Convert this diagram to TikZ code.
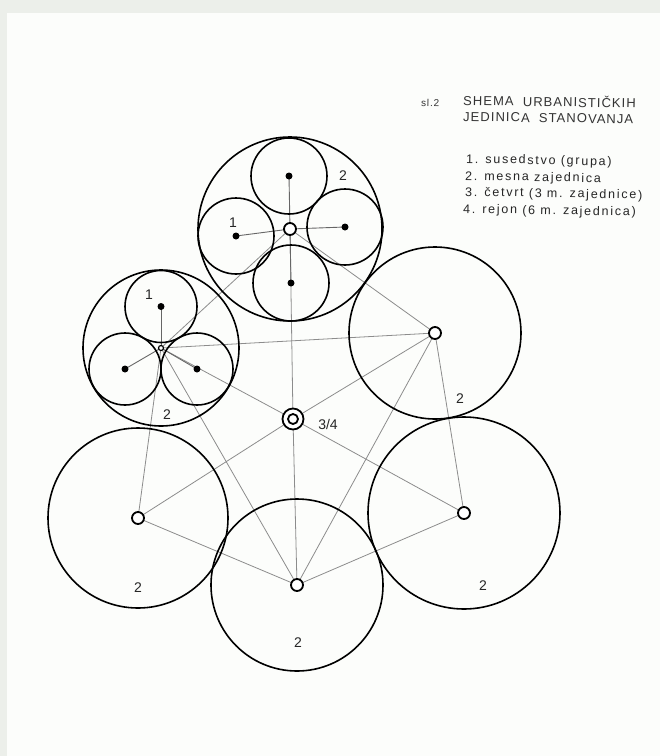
\documentclass[tikz,border=0pt]{standalone}
\usepackage{fontspec}
\setmainfont{Liberation Sans}
\newfontfamily\lettering[LetterSpace=8]{Liberation Sans}
\newfontfamily\legendfont[LetterSpace=14]{Liberation Sans}
\definecolor{pagebg}{RGB}{236,239,234}
\definecolor{paper}{RGB}{252,253,251}
\begin{document}
\begin{tikzpicture}[x=1pt,y=-1pt,
  link/.style={draw=black!45, line width=0.8pt},
  spoke/.style={draw=black!60, line width=0.9pt},
  unit/.style={circle, draw=black, line width=1.6pt, inner sep=0pt, minimum size=#1},
  ring/.style={circle, draw=black, fill=white, line width=1.8pt, inner sep=0pt, minimum size=#1},
  dot/.style={circle, fill=black, inner sep=0pt, minimum size=7pt},
  num/.style={font=\fontsize{14}{14}\selectfont, text=black!85, inner sep=0pt},
  title/.style={font=\lettering\fontsize{13}{13}\selectfont, text=black!80, anchor=base west, inner sep=0pt, rotate=-1},
  legend/.style={font=\legendfont\fontsize{12.5}{12.5}\selectfont, text=black!85, anchor=base west, inner sep=0pt, rotate=-1}
]
\useasboundingbox (0,0) rectangle (660,756);
\fill[pagebg] (0,0) rectangle (660,756);
\fill[paper] (7,13) rectangle (660,756);

% centres
\coordinate (C) at (293,419);
\coordinate (T) at (290,229);
\coordinate (L) at (161,348);
\coordinate (R) at (435,333);
\coordinate (LL) at (138,518);
\coordinate (B) at (297,585);
\coordinate (LR) at (464,513);

% sub-units of T
\coordinate (Ta) at (289,176);
\coordinate (Tb) at (236,236);
\coordinate (Tc) at (345,227);
\coordinate (Td) at (291,283);
% sub-units of L
\coordinate (La) at (161,306.5);
\coordinate (Lb) at (125,369);
\coordinate (Lc) at (197,369);

% connectors
\draw[link] (T) -- (L);
\draw[link] (T) -- (R);
\draw[link] (R) -- (LR);
\draw[link] (LR) -- (B);
\draw[link] (B) -- (LL);
\draw[link] (LL) -- (L);
\draw[link] (L) -- (R);
\draw[link] (L) -- (B);
\draw[link] (R) -- (B);
\draw[link] (C) -- (T);
\draw[link] (C) -- (B);
\draw[link] (C) -- (L);
\draw[link] (C) -- (R);
\draw[link] (C) -- (LL);
\draw[link] (C) -- (LR);

% spokes inside the clusters
\draw[spoke] (Ta) -- (Td);
\draw[spoke] (Tb) -- (T);
\draw[spoke] (Tc) -- (T);
\draw[spoke] (La) -- (L);
\draw[spoke] (Lb) -- (L);
\draw[spoke] (Lc) -- (L);

% big circles
\node[unit=184pt] (Tc0) at (T) {};
\node[unit=156pt] (Lc0) at (L) {};
\node[unit=172pt] (Rc0) at (R) {};
\node[unit=180pt] (LLc0) at (LL) {};
\node[unit=172pt] (Bc0) at (B) {};
\node[unit=192pt] (LRc0) at (LR) {};

% small circles
\node[unit=76pt] (Tac) at (Ta) {};
\node[unit=76pt] (Tbc) at (Tb) {};
\node[unit=76pt] (Tcc) at (Tc) {};
\node[unit=76pt] (Tdc) at (Td) {};
\node[unit=72pt] (Lac) at (La) {};
\node[unit=72pt] (Lbc) at (Lb) {};
\node[unit=72pt] (Lcc) at (Lc) {};

% dots
\node[dot] (Tad) at (Ta) {};
\node[dot] (Tbd) at (Tb) {};
\node[dot] (Tcd) at (Tc) {};
\node[dot] (Tdd) at (Td) {};
\node[dot] (Lad) at (La) {};
\node[dot] (Lbd) at (Lb) {};
\node[dot] (Lcd) at (Lc) {};

% rings
\node[ring=12pt] (Tr) at (T) {};
\node[ring=5pt, line width=1.2pt] (Lr) at (L) {};
\node[ring=12pt] (Rr) at (R) {};
\node[ring=12pt] (LLr) at (LL) {};
\node[ring=12pt] (Br) at (B) {};
\node[ring=12pt] (LRr) at (LR) {};
\node[ring=21pt] (Cr) at (C) {};
\node[ring=10pt] (Cr2) at (C) {};

% numbers
\node[num] (n1) at (343,176) {2};
\node[num] (n2) at (233,223) {1};
\node[num] (n3) at (149,295) {1};
\node[num] (n4) at (167,415) {2};
\node[num] (n5) at (460,399) {2};
\node[num] (n6) at (138,588) {2};
\node[num] (n7) at (298,643) {2};
\node[num] (n8) at (483,586) {2};
\node[num] (n9) at (328,424) {3/4};

% title and legend
\node[title, font=\lettering\fontsize{10}{10}\selectfont] (sl) at (421,106) {sl.2};
\node[title] (t1) at (463,105) {SHEMA\ \ URBANISTIČKIH};
\node[title] (t2) at (463,121) {JEDINICA\ \ STANOVANJA};
\node[legend] (g1) at (466,163) {1. susedstvo (grupa)};
\node[legend] (g2) at (465,180) {2. mesna zajednica};
\node[legend] (g3) at (465,196) {3. četvrt (3 m. zajednice)};
\node[legend] (g4) at (463,213) {4. rejon (6 m. zajednica)};
\end{tikzpicture}
\end{document}
